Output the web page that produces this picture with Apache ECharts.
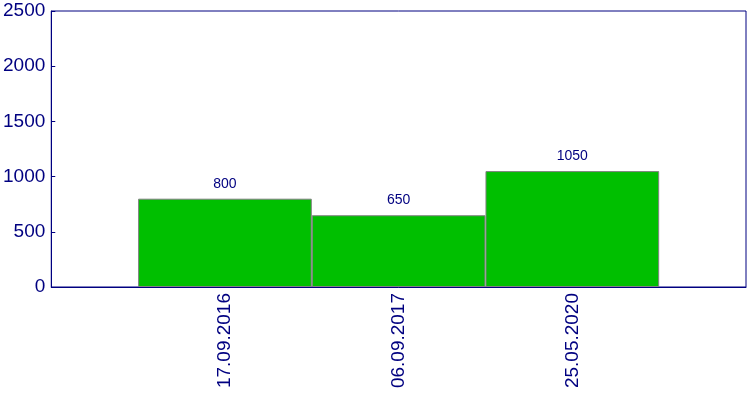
<!DOCTYPE html>
<html>
<head>
<meta charset="utf-8">
<script src="https://cdn.jsdelivr.net/npm/echarts@6/dist/echarts.min.js"></script>
<style>html,body{margin:0;padding:0;background:#fff}#c{width:750px;height:400px}</style>
</head>
<body>
<div id="c"></div>
<script>
const categories = ['17.09.2016', '06.09.2017', '25.05.2020'];
const values = [800, 650, 1050];
const yTicks = [0, 500, 1000, 1500, 2000, 2500];

const navy = '#000080';
const cats = [''].concat(categories, ['']);
const vals = [null].concat(values, [null]);

const chart = echarts.init(document.getElementById('c'), null, {renderer: 'canvas'});
chart.setOption({
  animation: false,
  backgroundColor: '#fff',
  grid: {left: 50, right: 4, top: 11, bottom: 113, show: true, borderColor: navy, borderWidth: 1, containLabel: false},
  xAxis: {
    type: 'category',
    data: cats,
    boundaryGap: false,
    axisLine: {lineStyle: {color: navy}},
    axisTick: {show: false},
    axisLabel: {rotate: 90, color: navy, fontSize: 19, fontFamily: 'Liberation Sans, Arial, sans-serif', margin: 6, interval: 0}
  },
  yAxis: {
    type: 'value',
    min: yTicks[0],
    max: yTicks[yTicks.length - 1],
    interval: 500,
    splitLine: {show: false},
    axisLine: {show: true, lineStyle: {color: navy}},
    axisTick: {show: true, inside: true, length: 4, lineStyle: {color: navy}},
    axisLabel: {color: navy, fontSize: 19, fontFamily: 'Liberation Sans, Arial, sans-serif', margin: 6, formatter: v => String(v)}
  },
  series: [{
    type: 'bar',
    data: vals,
    barWidth: '100%',
    itemStyle: {color: '#00BF00', borderColor: '#808080', borderWidth: 1},
    label: {show: true, position: 'top', color: navy, fontSize: 14, fontFamily: 'Liberation Sans Narrow, Liberation Sans, Arial, sans-serif', distance: 8}
  }]
});
</script>
</body>
</html>
